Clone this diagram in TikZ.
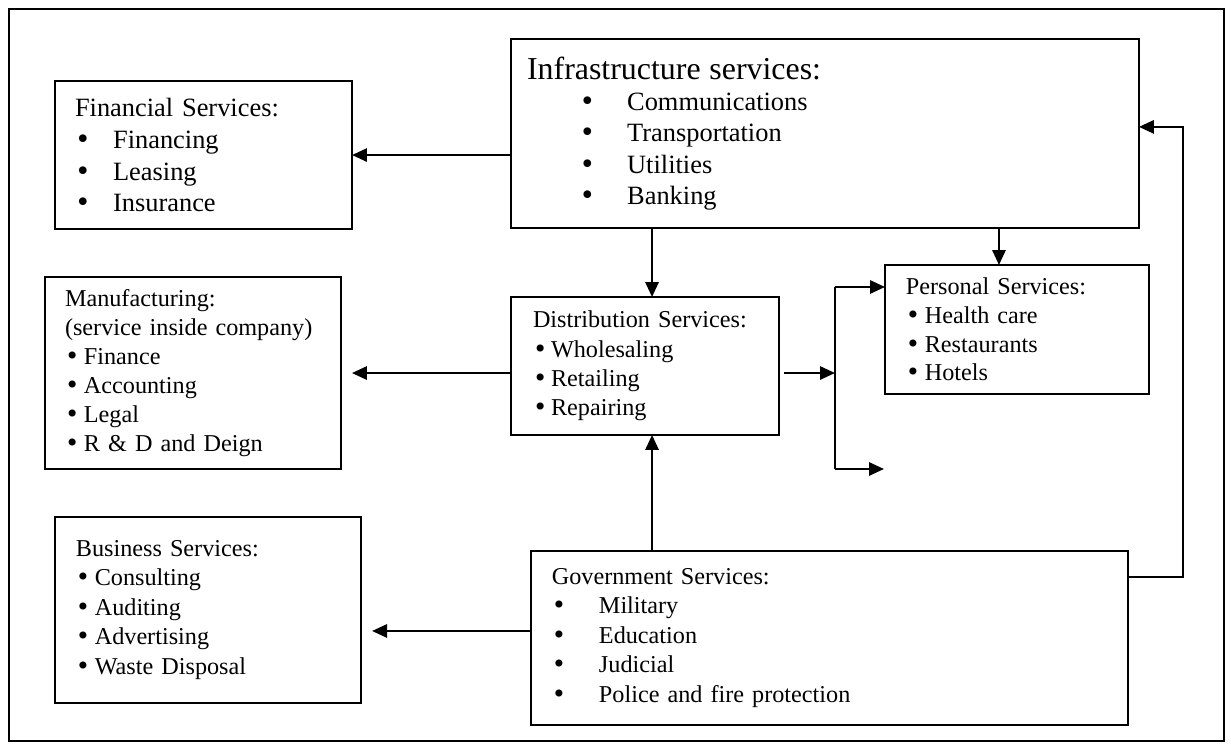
\documentclass[tikz,border=0pt]{standalone}
\usepackage{fontspec}
\setmainfont{Liberation Serif}
\newfontfamily\bulfont{DejaVu Sans}
\usetikzlibrary{arrows.meta}
\newcommand{\bul}[1][8.6pt]{\makebox[#1][l]{\bulfont\textbullet}}

\begin{document}
\begin{tikzpicture}[x=0.4545pt, y=-0.4545pt,
                    >={Triangle[length=6.8pt,width=6pt]},
                    svcbox/.style={draw, line width=0.9pt, anchor=north west, align=left,
                                   inner ysep=0pt, outer sep=0pt, font=\fontsize{11}{13.4}\selectfont},
                    link/.style={->, line width=1.05pt}]
  \useasboundingbox (0,0) rectangle (1231,747);
  \draw[line width=1pt] (9,9) rectangle (1224,741);

  \node[svcbox, font=\fontsize{12}{14.5}\selectfont, minimum width=135pt, minimum height=67.3pt,
        inner xsep=9.1pt, text width=116.8pt] (fin) at (55,81)
       {Financial Services:\\ \bul[17.3pt]Financing\\ \bul[17.3pt]Leasing\\ \bul[17.3pt]Insurance};
  \node[svcbox, font=\fontsize{12}{14.2}\selectfont, minimum width=285.4pt, minimum height=85.9pt,
        inner xsep=7.3pt, text width=270.8pt] (infra) at (511,39)
       {{\fontsize{14.5}{14.2}\selectfont Infrastructure services:}\\
        \hspace*{23.9pt}\bul[21.6pt]Communications\\ \hspace*{23.9pt}\bul[21.6pt]Transportation\\
        \hspace*{23.9pt}\bul[21.6pt]Utilities\\ \hspace*{23.9pt}\bul[21.6pt]Banking};
  \node[svcbox, font=\fontsize{11}{13.2}\selectfont, minimum width=134.5pt, minimum height=87.3pt,
        inner xsep=9.1pt, text width=116.3pt] (manu) at (45,277)
       {Manufacturing:\\ (service inside company)\\ \bul Finance\\ \bul Accounting\\ \bul Legal\\ \bul R \& D and Deign};
  \node[svcbox, font=\fontsize{11}{13.3}\selectfont, minimum width=121.8pt, minimum height=62.7pt,
        inner xsep=10pt, text width=101.8pt] (dist) at (511,297)
       {Distribution Services:\\ \bul[8.2pt]Wholesaling\\ \bul[8.2pt]Retailing\\ \bul[8.2pt]Repairing};
  \node[svcbox, font=\fontsize{11}{13}\selectfont, minimum width=120pt, minimum height=58.6pt,
        inner xsep=9.5pt, text width=101pt] (pers) at (885,265)
       {Personal Services:\\ \bul Health care\\ \bul Restaurants\\ \bul Hotels};
  \node[svcbox, minimum width=139.1pt, minimum height=84.5pt,
        inner xsep=9.5pt, text width=120.1pt] (bus) at (55,517)
       {Business Services:\\ \bul Consulting\\ \bul Auditing\\ \bul Advertising\\ \bul Waste Disposal};
  \node[svcbox, minimum width=271.3pt, minimum height=79.1pt,
        inner xsep=9.5pt, text width=252.3pt] (gov) at (531,551)
       {Government Services:\\ \bul[21.4pt]Military\\ \bul[21.4pt]Education\\ \bul[21.4pt]Judicial\\
        \bul[21.4pt]Police and fire protection};

  \coordinate (ftop) at (835,287);
  \coordinate (fbot) at (835,469);
  \coordinate (loose) at (884,469);

  \draw[link] (fin.east -| infra.west) -- (fin.east);
  \draw[link] ([xshift=3.2pt]dist.north |- infra.south) -- ([xshift=3.2pt]dist.north);
  \draw[link] ([xshift=-8.2pt]pers.north |- infra.south) -- ([xshift=-8.2pt]pers.north);
  \draw[link] (manu.east -| dist.west) -- ([xshift=5pt]manu.east);
  \draw[link] ([xshift=2.3pt,yshift=-3.2pt]dist.east) -- ([yshift=-3.2pt]dist.east -| ftop);
  \draw[line width=1.05pt] (ftop) -- (fbot);
  \draw[link] (ftop) -- (ftop -| pers.west);
  \draw[link] (fbot) -- (loose);
  \draw[link] ([xshift=3.2pt]dist.south |- gov.north) -- ([xshift=3.2pt]dist.south);
  \draw[link] ([yshift=3.2pt]gov.west) -- ([xshift=5pt,yshift=3.2pt]gov.west -| bus.east);
  \draw[link] ([yshift=27.7pt]gov.east) -| ([xshift=20pt,yshift=3pt]infra.east) -- ([yshift=3pt]infra.east);
\end{tikzpicture}
\end{document}
